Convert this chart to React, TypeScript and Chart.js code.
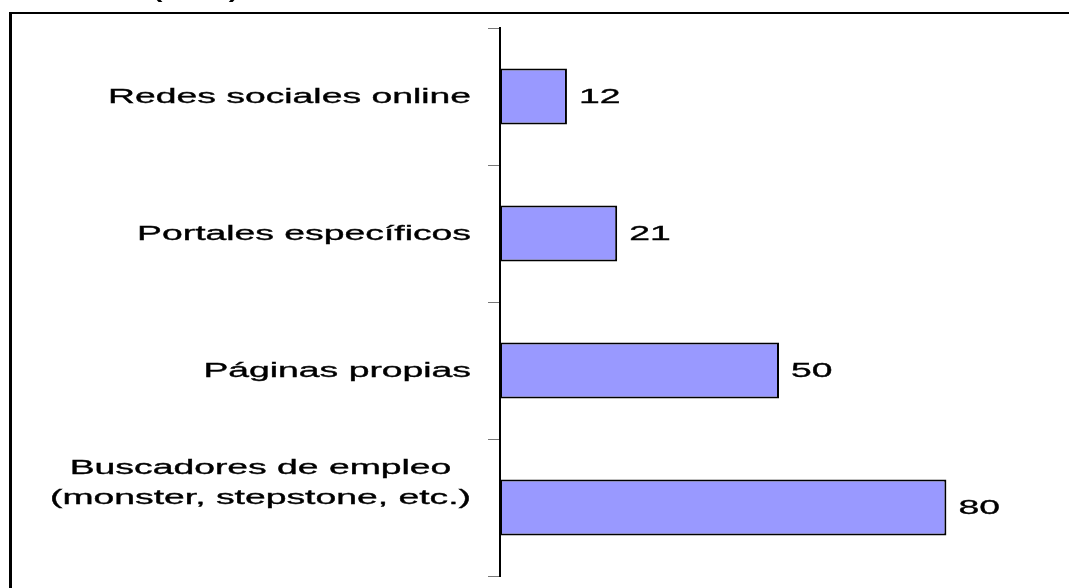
import React, { useEffect, useRef } from "react";
import { Chart, registerables } from "chart.js";

Chart.register(...registerables);

const categories: (string | string[])[] = [
  "Redes sociales online",
  "Portales específicos",
  "Páginas propias",
  ["Buscadores de empleo", "(monster, stepstone, etc.)"],
];
const values: number[] = [12, 21, 50, 80];
const titleText = "(en %)";

const FONT = '"Liberation Sans", Arial, sans-serif';
const STRETCH = 1.82;

function drawStretched(
  ctx: CanvasRenderingContext2D,
  text: string,
  x: number,
  y: number,
  align: CanvasTextAlign,
  sx: number,
  font: string,
  stroke = 0.35
) {
  ctx.save();
  ctx.translate(x, y);
  ctx.scale(sx, 1);
  ctx.font = font;
  ctx.fillStyle = "#000";
  ctx.strokeStyle = "#000";
  ctx.textAlign = align;
  ctx.textBaseline = "alphabetic";
  ctx.fillText(text, 0, 0);
  if (stroke > 0) {
    ctx.lineWidth = stroke;
    ctx.strokeText(text, 0, 0);
  }
  ctx.restore();
}

function measureStretched(ctx: CanvasRenderingContext2D, text: string, sx: number, font: string) {
  ctx.save();
  ctx.font = font;
  const w = ctx.measureText(text).width * sx;
  ctx.restore();
  return w;
}

const framePlugin = {
  id: "frame",
  beforeDraw(chart: any) {
    const ctx = chart.ctx as CanvasRenderingContext2D;
    ctx.save();
    ctx.fillStyle = "#fff";
    ctx.fillRect(0, 0, chart.width, chart.height);
    ctx.fillStyle = "#000";
    ctx.fillRect(9, 12, 3, chart.height);
    ctx.fillRect(9, 12, chart.width, 2);
    ctx.restore();
    drawStretched(ctx, titleText, 153, -2, "left", 1.42, `bold 20px ${FONT}`, 0);
  },
};

const textPlugin = {
  id: "stretchedText",
  afterDraw(chart: any) {
    const ctx = chart.ctx as CanvasRenderingContext2D;
    const yScale = chart.scales.y;
    const font = `20.5px ${FONT}`;
    const labelRight = yScale.right - 29;
    categories.forEach((lab, i) => {
      const cy = yScale.getPixelForTick(i);
      if (Array.isArray(lab)) {
        const widths = lab.map((l) => measureStretched(ctx, l, STRETCH, font));
        const maxW = Math.max(...widths);
        const cx = labelRight - maxW / 2;
        lab.forEach((line, k) => {
          const by = cy - 34 + k * 30;
          drawStretched(ctx, line, cx, by, "center", STRETCH, font);
        });
      } else {
        drawStretched(ctx, lab, labelRight, cy + 6, "right", STRETCH, font);
      }
    });
    const meta = chart.getDatasetMeta(0);
    meta.data.forEach((bar: any, i: number) => {
      drawStretched(ctx, String(values[i]), bar.x + 12, bar.y + 6, "left", STRETCH, font);
    });
  },
};

export default function App() {
  const ref = useRef<HTMLCanvasElement | null>(null);
  useEffect(() => {
    if (!ref.current) return;
    const chart = new Chart(ref.current, {
      type: "bar",
      data: {
        labels: categories,
        datasets: [
          {
            data: values,
            backgroundColor: "#9999FF",
            borderColor: "#000000",
            borderWidth: 2,
            borderSkipped: false,
            categoryPercentage: 1,
            barPercentage: 0.41,
          },
        ],
      },
      options: {
        indexAxis: "y",
        animation: false,
        responsive: true,
        maintainAspectRatio: false,
        layout: { padding: { top: 28, bottom: 12, right: 11, left: 0 } },
        plugins: {
          legend: { display: false },
          tooltip: { enabled: false },
        },
        scales: {
          x: {
            display: false,
            min: 0,
            max: 100,
          },
          y: {
            type: "category",
            grid: {
              display: true,
              offset: true,
              drawOnChartArea: false,
              drawTicks: true,
              tickLength: 12,
              color: "#777777",
              lineWidth: 1,
            },
            border: { display: true, color: "#000000", width: 2 },
            ticks: { display: false },
            afterFit: (s: any) => {
              s.width = 500;
            },
          },
        },
      },
      plugins: [framePlugin, textPlugin],
    });
    return () => chart.destroy();
  }, []);
  return (
    <div style={{ position: "absolute", left: 0, top: 0, width: 1069, height: 588 }}>
      <canvas ref={ref} />
    </div>
  );
}
